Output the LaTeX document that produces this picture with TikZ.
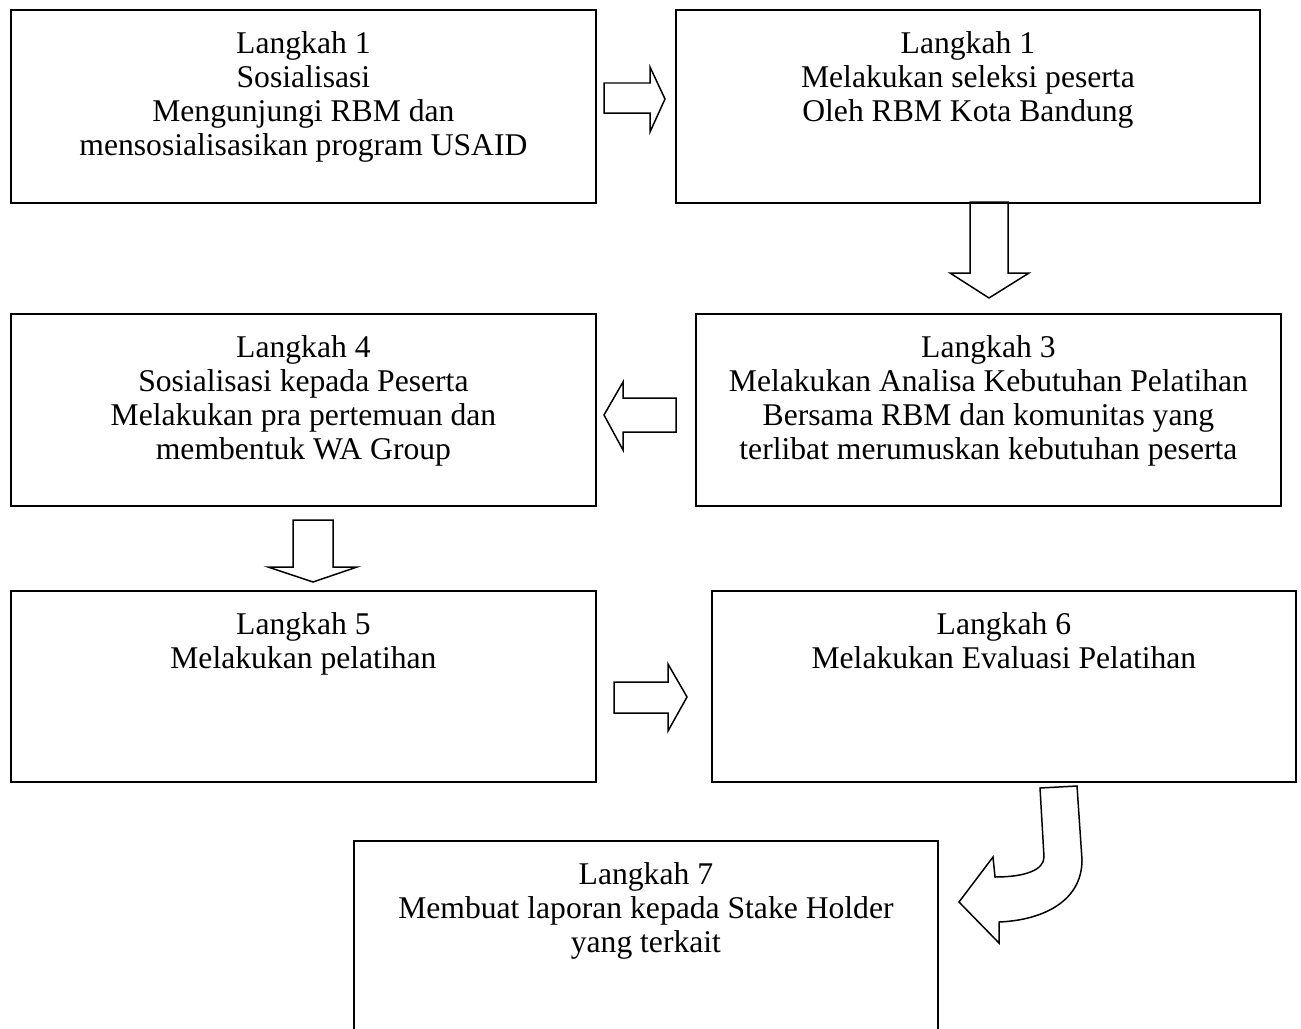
\documentclass[tikz,border=0pt]{standalone}
\usepackage{fontspec}
\setmainfont{Liberation Serif}
\usetikzlibrary{positioning}

\begin{document}
\begin{tikzpicture}[x=0.02cm,y=-0.02cm,
    stepbox/.style={draw,line width=1.1pt,anchor=north west,inner sep=0pt},
    steptext/.style={inner sep=0pt,align=center,font=\fontsize{18}{19.35}\selectfont},
    blockarrow/.style={draw,line width=0.85pt,line join=miter}]
            \clip (0,0) rectangle (1301,1028);
            \fill[white] (0,0) rectangle (1301,1028);
            % boxes
            \node[stepbox,minimum width=11.7cm,minimum height=3.86cm] (s1) at (10,9) {};
            \node[stepbox,minimum width=11.68cm,minimum height=3.86cm] (s2) at (675,9) {};
            \node[stepbox,minimum width=11.7cm,minimum height=3.84cm] (s3) at (695,313) {};
            \node[stepbox,minimum width=11.7cm,minimum height=3.84cm] (s4) at (10,313) {};
            \node[stepbox,minimum width=11.7cm,minimum height=3.82cm] (s5) at (10,590) {};
            \node[stepbox,minimum width=11.68cm,minimum height=3.82cm] (s6) at (711,590) {};
            \node[stepbox,minimum width=11.68cm,minimum height=4.4cm] (s7) at (353,840) {};
            % texts
            \node[steptext,below=0.44cm of s1.north] (t1) {Langkah 1\\Sosialisasi\\Mengunjungi RBM dan\\mensosialisasikan program USAID};
            \node[steptext,below=0.44cm of s2.north] (t2) {Langkah 1\\Melakukan seleksi peserta\\Oleh RBM Kota Bandung};
            \node[steptext,below=0.44cm of s3.north] (t3) {Langkah 3\\Melakukan Analisa Kebutuhan Pelatihan\\Bersama RBM dan komunitas yang\\terlibat merumuskan kebutuhan peserta};
            \node[steptext,below=0.44cm of s4.north] (t4) {Langkah 4\\Sosialisasi kepada Peserta\\Melakukan pra pertemuan dan\\membentuk WA Group};
            \node[steptext,below=0.44cm of s5.north] (t5) {Langkah 5\\Melakukan pelatihan};
            \node[steptext,below=0.44cm of s6.north] (t6) {Langkah 6\\Melakukan Evaluasi Pelatihan};
            \node[steptext,below=0.44cm of s7.north] (t7) {Langkah 7\\Membuat laporan kepada Stake Holder\\yang terkait};
            % block arrows
            \draw[blockarrow] (604,83) -- (650,83) -- (650,67) -- (665,99) -- (650,132) -- (650,113) -- (604,113) -- cycle;
            \draw[blockarrow] (970,202) -- (970,273) -- (950,273) -- (989,298) -- (1029,273) -- (1008,273) -- (1008,202) -- cycle;
            \draw[blockarrow] (676,398) -- (623,398) -- (623,382) -- (604,415) -- (623,450) -- (623,432) -- (676,432) -- cycle;
            \draw[blockarrow] (293,520) -- (333,520) -- (333,567) -- (357,567) -- (313,582) -- (268,567) -- (293,567) -- cycle;
            \draw[blockarrow] (614,682) -- (668,682) -- (668,664) -- (687,697) -- (668,731) -- (668,713) -- (614,713) -- cycle;
            \draw[blockarrow] (1040,788) -- (1077,786) -- (1082,860)
                .. controls (1082,900) and (1045,920) .. (999,922)
                -- (999,943) -- (959,902) -- (993,857) -- (995,877)
                .. controls (1025,877) and (1044,870) .. (1044,857) -- cycle;
        \end{tikzpicture}
\end{document}
